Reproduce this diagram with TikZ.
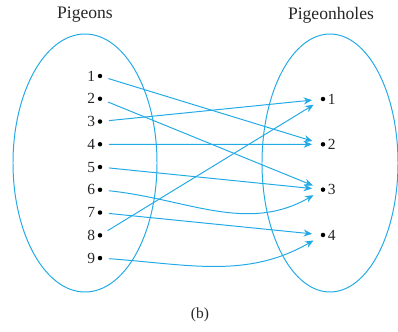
\documentclass[tikz,border=0pt]{standalone}
\usepackage{fontspec}
\setmainfont{Liberation Serif}
\usepackage{tikz}
\usetikzlibrary{positioning,calc,arrows.meta}
\definecolor{pigeonBlue}{RGB}{35,170,230}
\colorlet{textGray}{black!85}

\begin{document}
\begin{tikzpicture}[every node/.style={font=\fontsize{11}{13}\selectfont, text=textGray},
    dot/.style={circle, fill=black, inner sep=0pt, minimum size=3.2pt},
    arr/.style={pigeonBlue, line width=0.7pt, -{Stealth[length=6pt,width=5pt]}, shorten <=4.5pt, shorten >=6pt}]
        \useasboundingbox (0,0) rectangle (9.95,8.275);

        % the two sets
        \draw[pigeonBlue, line width=0.7pt] (2.125,4.2) ellipse (1.8cm and 3.225cm);
        \draw[pigeonBlue, line width=0.7pt] (8.25,4.2) ellipse (1.7cm and 3.225cm);
        \node[font=\fontsize{12.5}{14}\selectfont] (pigeons) at (2.125,7.9) {Pigeons};
        \node[font=\fontsize{12.5}{14}\selectfont] (holes) at (8.275,7.9) {Pigeonholes};

        % pigeons and holes
        \foreach \i in {1,...,9}
            \node[dot, label={[inner sep=1.5pt]left:\i}] (p\i) at (2.5, 6.375-0.569*\i+0.569) {};
        \foreach \j in {1,...,4}
            \node[dot, label={[inner sep=1.5pt]right:\j}] (h\j) at (8.075, 5.8-1.133*\j+1.133) {};

        \draw[arr] (p1) -- (h2);
        \draw[arr] (p2) -- (h3);
        \draw[arr] (p3) -- (h1);
        \draw[arr] (p4) -- (h2);
        \draw[arr] (p5) -- (h3);
        \draw[arr] (p6) to[out=-6, in=210] (h3);
        \draw[arr] (p7) -- (h4);
        \draw[arr] (p8) -- (h1);
        \draw[arr] (p9) to[out=-4, in=210] (h4);

        \node (caption) at (5.0,0.4) {(b)};
    \end{tikzpicture}
\end{document}
